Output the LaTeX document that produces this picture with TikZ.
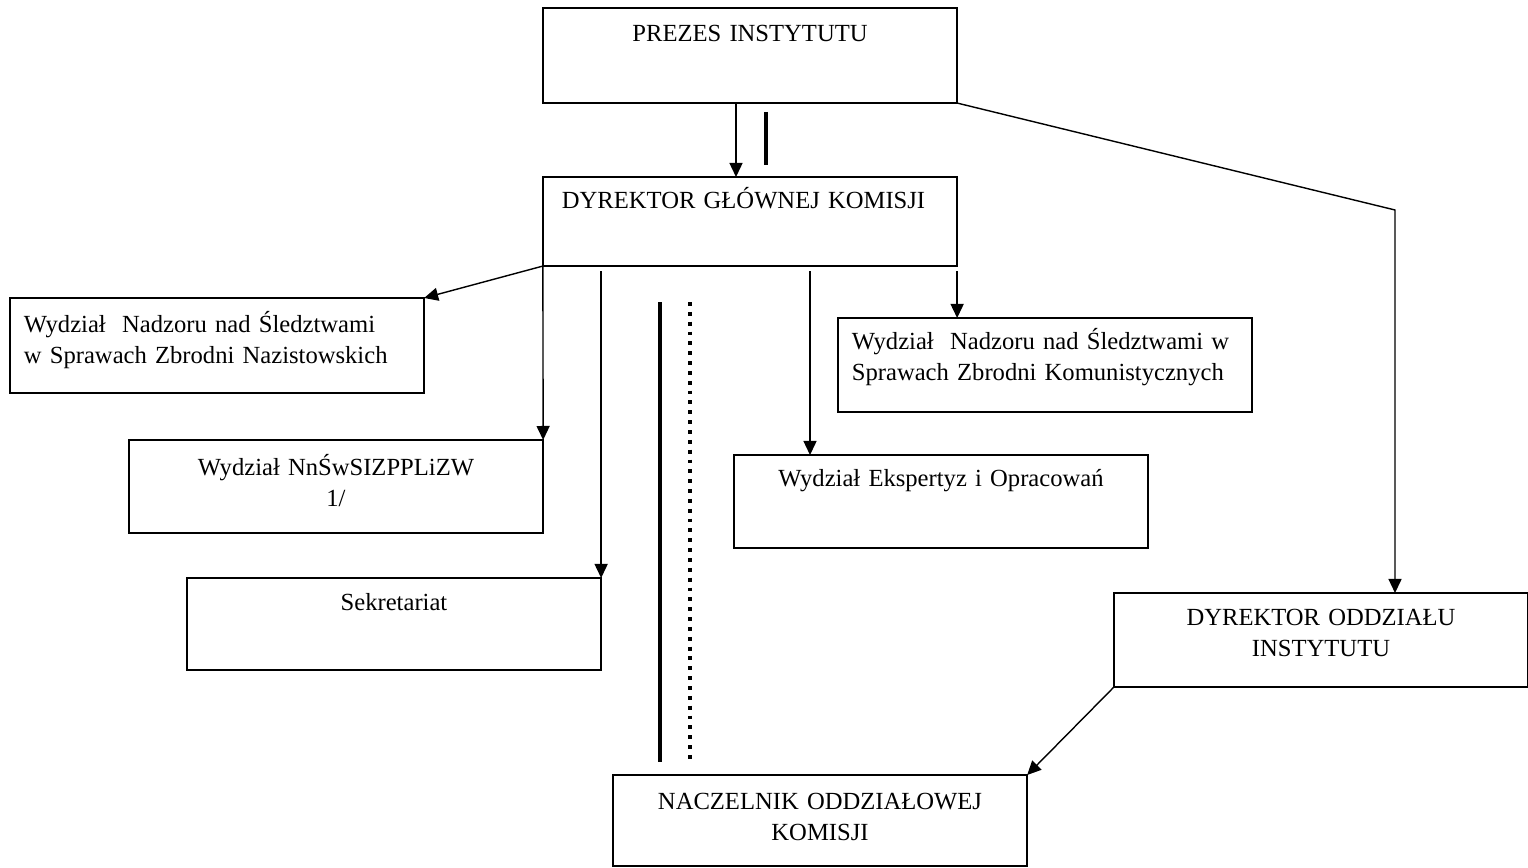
\documentclass[tikz,border=0pt]{standalone}
\usepackage{fontspec}
\setmainfont{Liberation Serif}
\usepackage{tikz}
\usetikzlibrary{arrows.meta}

\begin{document}
\begin{tikzpicture}[x=0.01cm, y=-0.01cm,
  unit/.style={draw, anchor=north, inner ysep=0pt, outer sep=0pt,
    font=\fontsize{7}{9}\selectfont},
  midtext/.style={unit, inner xsep=0pt, text width=4.14cm, align=center},
  lefttext/.style={unit, inner xsep=0.14cm, text width=3.86cm, align=left},
  arr/.style={-{Triangle[length=1.4mm,width=1.3mm]}},
  bar/.style={line width=1.4pt},
  dotbar/.style={line width=1.2pt, dash pattern=on 1.1pt off 1.7pt}]
  \useasboundingbox (0,0) rectangle (1528,867);

  \node[midtext, text height=0.33cm, text depth=0.62cm] (prezes) at (750,8) {PREZES INSTYTUTU};
  \node[lefttext, inner xsep=0.19cm, text width=3.76cm, text height=0.31cm, text depth=0.58cm] (dyrgl) at (750,177) {DYREKTOR GŁÓWNEJ KOMISJI};

  \node[lefttext, text height=0.34cm, text depth=0.61cm] (nazist) at (217,298)
    {Wydział~ Nadzoru nad Śledztwami\\w Sprawach Zbrodni Nazistowskich};
  \node[lefttext, text height=0.31cm, text depth=0.63cm] (komun) at (1045,318)
    {Wydział~ Nadzoru nad Śledztwami w\\Sprawach Zbrodni Komunistycznych};
  \node[midtext, text height=0.35cm, text depth=0.58cm] (nnsw) at (336,440)
    {Wydział NnŚwSIZPPLiZW\\1/};
  \node[midtext, text height=0.31cm, text depth=0.62cm] (eksp) at (941,455)
    {Wydział Ekspertyz i Opracowań};
  \node[midtext, text height=0.32cm, text depth=0.60cm] (sekr) at (394,578)
    {Sekretariat};
  \node[midtext, text height=0.32cm, text depth=0.62cm] (oddz) at (1321,593)
    {DYREKTOR ODDZIAŁU\\INSTYTUTU};
  \node[midtext, text height=0.34cm, text depth=0.57cm] (nacz) at (820,775)
    {NACZELNIK ODDZIAŁOWEJ\\KOMISJI};

  % links
  \draw[arr] ([xshift=-0.14cm]prezes.south) -- ([xshift=-0.14cm]dyrgl.north);
  \draw[bar] (766,112) -- (766,165);
  \coordinate (bend) at (1395,210);
  \draw[arr] (prezes.south east) -- (bend) -- (bend |- oddz.north);

  \draw[arr] (dyrgl.south west) -- (nazist.north east);
  \draw[arr] (dyrgl.south west) -- (nnsw.north east);
  \draw[arr, shorten <=0.05cm] (dyrgl.south -| sekr.north east) -- (sekr.north east);
  \draw[arr, shorten <=0.05cm] (dyrgl.south -| 810,0) -- (eksp.north -| 810,0);
  \draw[arr, shorten <=0.05cm] (dyrgl.south east) -- (dyrgl.south east |- komun.north);
  \draw[arr] (oddz.south west) -- (nacz.north east);

  \draw[bar] (660,302) -- (660,762);
  \draw[dotbar] (690,302) -- (690,762);
\end{tikzpicture}
\end{document}
